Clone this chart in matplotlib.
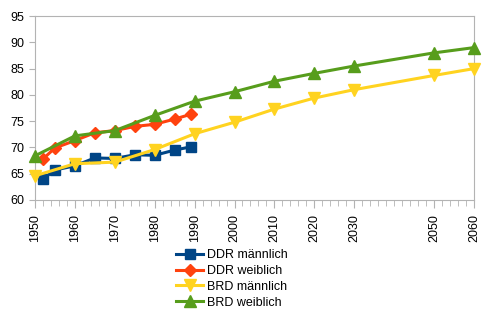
import matplotlib.pyplot as plt
from matplotlib.ticker import MultipleLocator

plt.rcParams['font.family'] = ['Liberation Sans', 'DejaVu Sans']

ddr_years = [1952, 1955, 1960, 1965, 1970, 1975, 1980, 1985, 1989]
ddr_m = [64.0, 65.7, 66.5, 68.0, 67.9, 68.6, 68.5, 69.5, 70.1]
ddr_w = [67.8, 69.9, 71.3, 72.8, 73.2, 74.0, 74.4, 75.4, 76.3]

brd_years = [1950, 1960, 1970, 1980, 1990, 2000, 2010, 2020, 2030, 2050, 2060]
brd_m = [64.6, 66.9, 67.2, 69.6, 72.6, 74.8, 77.3, 79.4, 81.0, 83.7, 85.0]
brd_w = [68.4, 72.2, 73.2, 76.1, 78.8, 80.6, 82.6, 84.1, 85.5, 88.0, 89.0]

x_ticks = [1950, 1960, 1970, 1980, 1990, 2000, 2010, 2020, 2030, 2050, 2060]

fig = plt.figure(figsize=(4.88, 3.22), dpi=100)
ax = fig.add_axes([0.0717, 0.379, 0.8995, 0.571])

ax.plot(ddr_years, ddr_m, color='#004586', lw=2.2, marker='s', ms=7,
        label='DDR männlich', clip_on=False, zorder=3)
ax.plot(ddr_years, ddr_w, color='#ff420e', lw=2.2, marker='D', ms=6,
        label='DDR weiblich', clip_on=False, zorder=3)
ax.plot(brd_years, brd_m, color='#ffd320', lw=2.2, marker='v', ms=8,
        label='BRD männlich', clip_on=False, zorder=3)
ax.plot(brd_years, brd_w, color='#579d1c', lw=2.2, marker='^', ms=8,
        label='BRD weiblich', clip_on=False, zorder=3)

ax.set_xlim(1950, 2060)
ax.set_ylim(60, 95)
ax.set_xticks(x_ticks)
ax.set_xticklabels([str(y) for y in x_ticks], rotation=90)
ax.xaxis.set_minor_locator(MultipleLocator(2))
ax.set_yticks(range(60, 96, 5))

for s in ax.spines.values():
    s.set_color('#b3b3b3')
ax.tick_params(axis='both', which='both', color='#b3b3b3', labelsize=9)
ax.tick_params(axis='x', which='major', length=6, pad=4)
ax.tick_params(axis='x', which='minor', length=4)
ax.tick_params(axis='y', length=4)

fig.legend(loc='upper center', bbox_to_anchor=(0.475, 0.245), frameon=False,
           fontsize=9, handlelength=2.2, handletextpad=0.3, labelspacing=0.3,
           borderpad=0)

fig.savefig('out.png', dpi=100)
